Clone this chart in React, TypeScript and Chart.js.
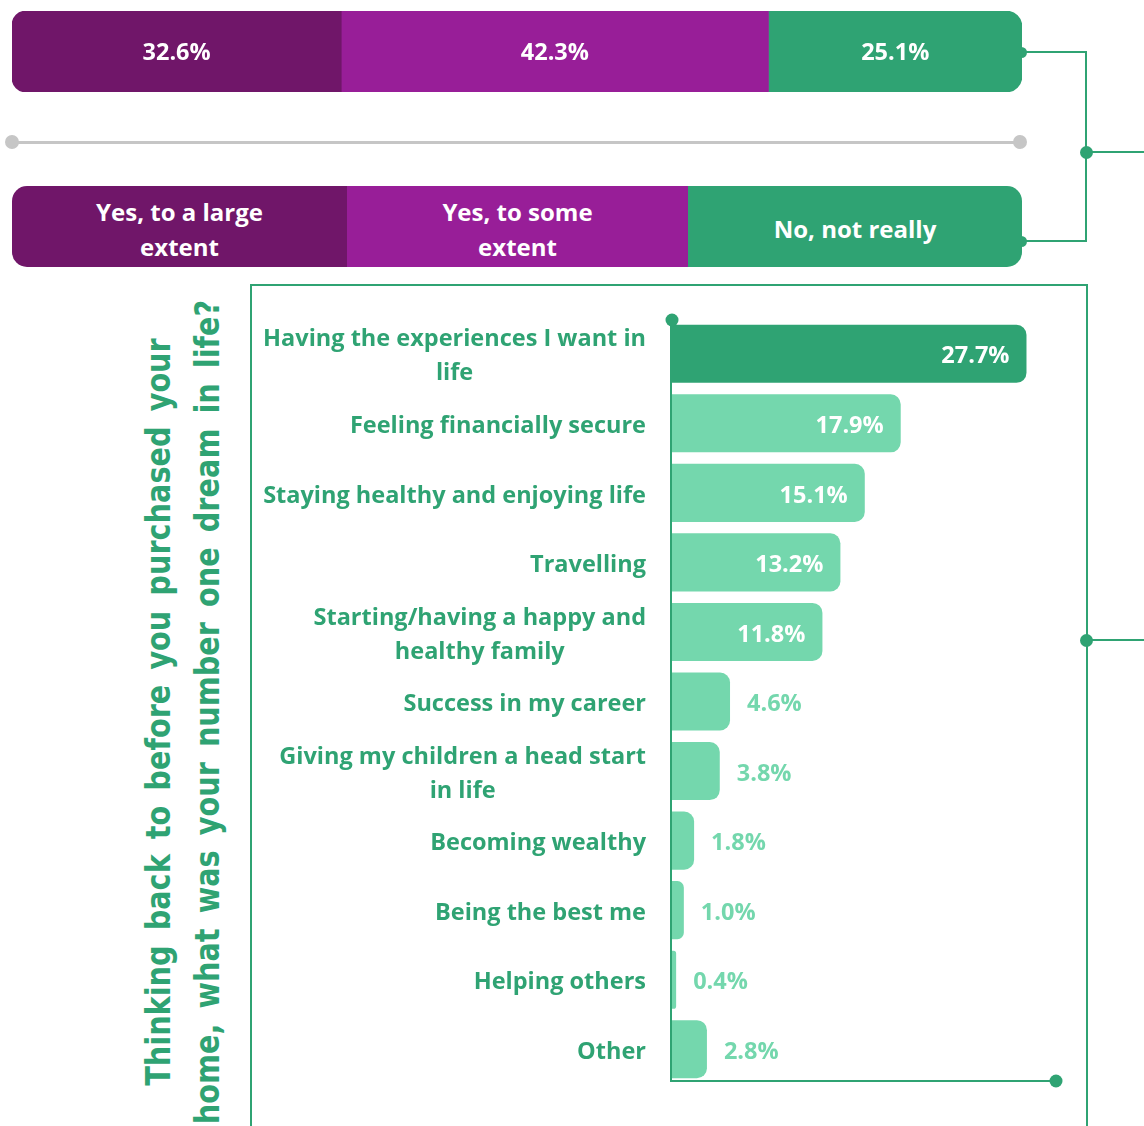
import React, { useEffect, useRef } from "react";
import { Chart, registerables } from "chart.js";

Chart.register(...registerables);

// ---------- data ----------
const topCategories = ["Yes, to a large extent", "Yes, to some extent", "No, not really"];
const topValues = [32.6, 42.3, 25.1];
const legendLines = [["Yes, to a large", "extent"], ["Yes, to some", "extent"], ["No, not really"]];

const dreamCategories = [
  ["Having the experiences I want in", "life"],
  ["Feeling financially secure"],
  ["Staying healthy and enjoying life"],
  ["Travelling"],
  ["Starting/having a happy and", "healthy family"],
  ["Success in my career"],
  ["Giving my children a head start", "in life"],
  ["Becoming wealthy"],
  ["Being the best me"],
  ["Helping others"],
  ["Other"],
];
const dreamValues = [27.7, 17.9, 15.1, 13.2, 11.8, 4.6, 3.8, 1.8, 1.0, 0.4, 2.8];
const dreamAxisMax = 30;
const titleLines = [
  "Thinking back to before you purchased your",
  "home, what was your number one dream in life?",
];

// ---------- styles ----------
const DARK_PURPLE = "#701669";
const PURPLE = "#981E98";
const GREEN = "#2FA373";
const LIGHT_GREEN = "#74D7AD";
const GRAY = "#C6C6C6";
const topColors = [DARK_PURPLE, PURPLE, GREEN];
const FONT = '"Open Sans", "Noto Sans", sans-serif';

function TopBar() {
  const ref = useRef<HTMLCanvasElement>(null);
  useEffect(() => {
    const labelPlugin = {
      id: "topLabels",
      afterDatasetsDraw(chart: any) {
        const ctx = chart.ctx;
        ctx.save();
        ctx.fillStyle = "#FFFFFF";
        ctx.font = `700 23.5px ${FONT}`;
        ctx.textAlign = "center";
        ctx.textBaseline = "middle";
        chart.data.datasets.forEach((ds: any, i: number) => {
          const el = chart.getDatasetMeta(i).data[0];
          const cx = (el.x + el.base) / 2;
          ctx.fillText(ds.data[0].toFixed(1) + "%", cx, el.y + 2);
        });
        ctx.restore();
      },
    };
    const chart = new Chart(ref.current!, {
      type: "bar",
      data: {
        labels: [""],
        datasets: topValues.map((v, i) => ({
          label: topCategories[i],
          data: [v],
          backgroundColor: topColors[i],
          borderWidth: 0,
          borderSkipped: false,
          borderRadius:
            i === 0
              ? { topLeft: 14, bottomLeft: 14, topRight: 0, bottomRight: 0 }
              : i === topValues.length - 1
              ? { topLeft: 0, bottomLeft: 0, topRight: 16, bottomRight: 16 }
              : 0,
          barPercentage: 1,
          categoryPercentage: 1,
        })),
      },
      options: {
        indexAxis: "y",
        responsive: false,
        maintainAspectRatio: false,
        animation: false,
        layout: { padding: 0 },
        scales: {
          x: { stacked: true, display: false, min: 0, max: 100 },
          y: { stacked: true, display: false },
        },
        plugins: { legend: { display: false }, tooltip: { enabled: false } },
      } as any,
      plugins: [labelPlugin],
    });
    return () => chart.destroy();
  }, []);
  return (
    <canvas
      ref={ref}
      width={1010}
      height={81}
      style={{ position: "absolute", left: 12, top: 11, width: 1010, height: 81 }}
    />
  );
}

function DreamChart() {
  const ref = useRef<HTMLCanvasElement>(null);
  useEffect(() => {
    const drawPlugin = {
      id: "dreamDecor",
      afterDatasetsDraw(chart: any) {
        const ctx = chart.ctx;
        const xs = chart.scales.x;
        const area = chart.chartArea;
        const x0 = xs.getPixelForValue(0);
        const xEnd = xs.getPixelForValue(dreamAxisMax);
        const yBottom = area.bottom - 3;
        ctx.save();
        // axis lines
        ctx.strokeStyle = GREEN;
        ctx.lineWidth = 2;
        ctx.beginPath();
        ctx.moveTo(x0, area.top + 1);
        ctx.lineTo(x0, yBottom);
        ctx.lineTo(xEnd, yBottom);
        ctx.stroke();
        ctx.fillStyle = GREEN;
        ctx.beginPath();
        ctx.arc(x0 + 1, area.top + 1, 6.5, 0, Math.PI * 2);
        ctx.fill();
        ctx.beginPath();
        ctx.arc(xEnd, yBottom, 6.5, 0, Math.PI * 2);
        ctx.fill();

        const meta = chart.getDatasetMeta(0);
        ctx.textBaseline = "middle";
        meta.data.forEach((el: any, i: number) => {
          const v = dreamValues[i];
          const txt = v.toFixed(1) + "%";
          ctx.font = `700 23.5px ${FONT}`;
          if (v >= 10) {
            ctx.fillStyle = "#FFFFFF";
            ctx.textAlign = "right";
            ctx.fillText(txt, el.x - 17, el.y + 3);
          } else {
            ctx.fillStyle = LIGHT_GREEN;
            ctx.textAlign = "left";
            ctx.fillText(txt, el.x + 17, el.y + 3);
          }
          // category label
          const lines = dreamCategories[i];
          ctx.font = `700 23.5px ${FONT}`;
          ctx.fillStyle = GREEN;
          ctx.textAlign = "center";
          const maxW = Math.max(...lines.map((l) => ctx.measureText(l).width));
          const right = x0 - 25;
          const cx = right - maxW / 2;
          const lh = 34;
          lines.forEach((l, k) => {
            const y = el.y + 3 + (k - (lines.length - 1) / 2) * lh;
            ctx.fillText(l, cx, y);
          });
        });
        ctx.restore();
      },
    };
    const chart = new Chart(ref.current!, {
      type: "bar",
      data: {
        labels: dreamCategories.map((l) => l.join(" ")),
        datasets: [
          {
            data: dreamValues,
            backgroundColor: dreamValues.map((_, i) => (i === 0 ? GREEN : LIGHT_GREEN)),
            borderWidth: 0,
            borderRadius: 10,
            barPercentage: 0.835,
            categoryPercentage: 1,
          },
        ],
      },
      options: {
        indexAxis: "y",
        responsive: false,
        maintainAspectRatio: false,
        animation: false,
        layout: { padding: { left: 420, right: 30, top: 34, bottom: 42 } },
        scales: {
          x: { display: false, min: 0, max: dreamAxisMax },
          y: { display: false },
        },
        plugins: { legend: { display: false }, tooltip: { enabled: false } },
      } as any,
      plugins: [drawPlugin],
    });
    return () => chart.destroy();
  }, []);
  return (
    <canvas
      ref={ref}
      width={835}
      height={841}
      style={{ position: "absolute", left: 251, top: 285, width: 835, height: 841 }}
    />
  );
}

const abs = (s: React.CSSProperties): React.CSSProperties => ({ position: "absolute", ...s });
const dot = (cx: number, cy: number, r: number, color: string) => (
  <div
    style={abs({
      left: cx - r,
      top: cy - r,
      width: r * 2,
      height: r * 2,
      borderRadius: "50%",
      background: color,
    })}
  />
);

export default function App() {
  const legendWidths = [335, 341, 334];
  return (
    <div
      style={{
        position: "absolute",
        left: 0,
        top: 0,
        width: 1144,
        height: 1126,
        overflow: "hidden",
        background: "#FFFFFF",
        fontFamily: FONT,
      }}
    >
      {/* connectors */}
      <div style={abs({ left: 1022, top: 51, width: 65, height: 2, background: GREEN })} />
      <div style={abs({ left: 1085, top: 51, width: 2, height: 191, background: GREEN })} />
      <div style={abs({ left: 1022, top: 240, width: 65, height: 2, background: GREEN })} />
      <div style={abs({ left: 1086, top: 151, width: 60, height: 2, background: GREEN })} />
      {dot(1086, 152, 6.5, GREEN)}
      {dot(1021, 52, 5.5, GREEN)}
      {dot(1021, 241, 5.5, GREEN)}

      <TopBar />

      {/* gray divider */}
      <div style={abs({ left: 12, top: 141, width: 1008, height: 3, background: GRAY })} />
      {dot(12, 142, 7, GRAY)}
      {dot(1020, 142, 7, GRAY)}

      {/* legend bar */}
      <div
        style={abs({
          left: 12,
          top: 186,
          width: 1010,
          height: 81,
          display: "flex",
          borderRadius: 15,
          overflow: "hidden",
        })}
      >
        {legendLines.map((lines, i) => (
          <div
            key={i}
            style={{
              width: legendWidths[i],
              height: "100%",
              boxSizing: "border-box",
              paddingTop: 4,
              background: topColors[i],
              display: "flex",
              alignItems: "center",
              justifyContent: "center",
              flexDirection: "column",
              color: "#FFFFFF",
              fontWeight: 700,
              fontSize: 24,
              lineHeight: "35px",
              textAlign: "center",
            }}
          >
            {lines.map((l, k) => (
              <div key={k}>{l}</div>
            ))}
          </div>
        ))}
      </div>

      {/* box */}
      <div
        style={abs({
          left: 250,
          top: 284,
          width: 838,
          height: 900,
          border: `2px solid ${GREEN}`,
          boxSizing: "border-box",
        })}
      />
      <div style={abs({ left: 1086, top: 639, width: 60, height: 2, background: GREEN })} />
      {dot(1086, 640, 6.5, GREEN)}

      <DreamChart />

      {/* vertical title */}
      <div
        style={abs({
          left: 183,
          top: 712,
          width: 1100,
          transform: "translate(-50%, -50%) rotate(-90deg) scaleX(0.845)",
          textAlign: "center",
          color: GREEN,
          fontFamily: '"DejaVu Sans", Verdana, sans-serif',
          fontWeight: 700,
          fontSize: 34,
          lineHeight: "49px",
          whiteSpace: "nowrap",
          wordSpacing: 6,
        })}
      >
        {titleLines.map((l, k) => (
          <div key={k}>{l}</div>
        ))}
      </div>
    </div>
  );
}
